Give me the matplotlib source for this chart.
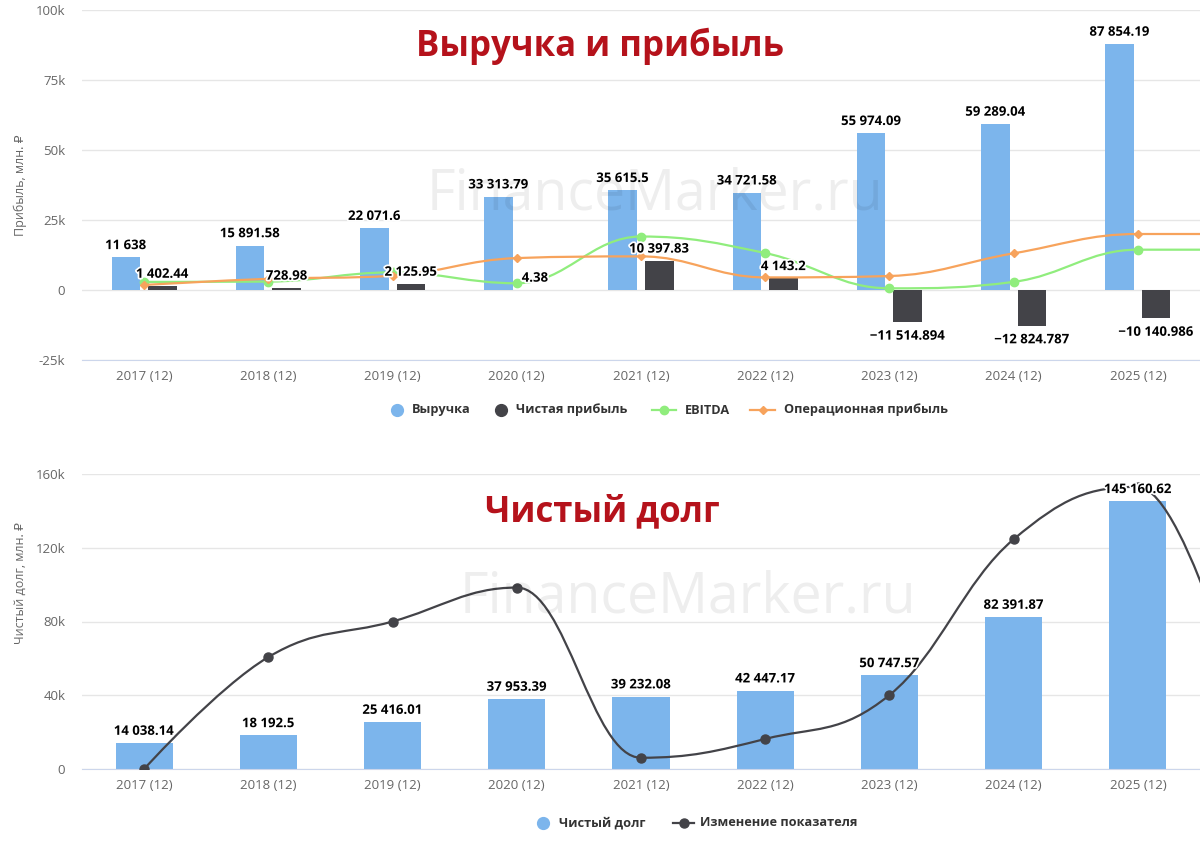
import numpy as np
import matplotlib
matplotlib.use("Agg")
import matplotlib.pyplot as plt
from matplotlib.path import Path
from matplotlib.patches import PathPatch
from matplotlib.lines import Line2D
import matplotlib.patheffects as pe

plt.rcParams['font.family'] = ['Open Sans', 'DejaVu Sans']

# ---------------- data ----------------
categories = ["2017 (12)", "2018 (12)", "2019 (12)", "2020 (12)", "2021 (12)",
              "2022 (12)", "2023 (12)", "2024 (12)", "2025 (12)"]
revenue = [11638, 15891.58, 22071.6, 33313.79, 35615.5, 34721.58, 55974.09, 59289.04, 87854.19]
net_profit = [1402.44, 728.98, 2125.95, 4.38, 10397.83, 4143.2, -11514.894, -12824.787, -10140.986]
# line series continue to one more (cropped) period at the right edge
ebitda = [2900, 3000, 6300, 2400, 19100, 13200, 600, 2900, 14400, 14400]
op_profit = [1800, 4000, 5100, 11400, 12000, 4500, 5000, 13100, 20000, 20000]

net_debt = [14038.14, 18192.5, 25416.01, 37953.39, 39232.08, 42447.17, 50747.57, 82391.87, 145160.62]
debt_change = [0, 60700, 80000, 98400, 6100, 16300, 40100, 124600, 153000, -3000]

top_yticks = [-25000, 0, 25000, 50000, 75000, 100000]
top_yticklabels = ["-25k", "0", "25k", "50k", "75k", "100k"]
bot_yticks = [0, 40000, 80000, 120000, 160000]
bot_yticklabels = ["0", "40k", "80k", "120k", "160k"]

C_BLUE = "#7cb5ec"
C_DARK = "#434348"
C_GREEN = "#90ed7d"
C_ORANGE = "#f7a35c"
C_TITLE = "#b5121b"

W, H = 1200, 841


def fmt(v):
    s = f"{abs(v):,.3f}".rstrip('0').rstrip('.').replace(',', ' ')
    return ("\u2212" if v < 0 else "") + s


def hc_spline(xs, ys, smoothing=1.5):
    """Highcharts-style spline as a bezier Path."""
    n = len(xs)
    denom = smoothing + 1
    lc = [(xs[i], ys[i]) for i in range(n)]
    rc = [(xs[i], ys[i]) for i in range(n)]
    for j in range(1, n - 1):
        lastX, lastY = xs[j - 1], ys[j - 1]
        nextX, nextY = xs[j + 1], ys[j + 1]
        pX, pY = xs[j], ys[j]
        lcx = (smoothing * pX + lastX) / denom
        lcy = (smoothing * pY + lastY) / denom
        rcx = (smoothing * pX + nextX) / denom
        rcy = (smoothing * pY + nextY) / denom
        if rcx != lcx:
            corr = ((rcy - lcy) * (rcx - pX)) / (rcx - lcx) + pY - rcy
            lcy += corr
            rcy += corr
        if lcy > max(lastY, pY):
            lcy = max(lastY, pY); rcy = 2 * pY - lcy
        elif lcy < min(lastY, pY):
            lcy = min(lastY, pY); rcy = 2 * pY - lcy
        if rcy > max(nextY, pY):
            rcy = max(nextY, pY); lcy = 2 * pY - rcy
        elif rcy < min(nextY, pY):
            rcy = min(nextY, pY); lcy = 2 * pY - rcy
        lc[j] = (lcx, lcy)
        rc[j] = (rcx, rcy)
    verts = [(xs[0], ys[0])]
    codes = [Path.MOVETO]
    for i in range(1, n):
        verts += [rc[i - 1], lc[i], (xs[i], ys[i])]
        codes += [Path.CURVE4] * 3
    return Path(verts, codes)


def style_axes(ax, yticks, yticklabels, ylim):
    ax.set_xlim(-0.5, 8.5)
    ax.set_ylim(*ylim)
    ax.set_yticks(yticks)
    ax.set_yticklabels(yticklabels)
    ax.set_xticks(np.arange(len(categories)))
    ax.set_xticklabels(categories)
    for s in ["top", "right", "left"]:
        ax.spines[s].set_visible(False)
    ax.spines["bottom"].set_color("#ccd6eb")
    ax.tick_params(axis='both', length=0, colors="#666666", labelsize=9.5)
    ax.tick_params(axis='y', pad=12)
    ax.tick_params(axis='x', pad=7)
    ax.grid(axis='y', color="#e6e6e6", lw=1)
    ax.set_axisbelow(True)


outline = [pe.withStroke(linewidth=2.5, foreground="white")]

fig = plt.figure(figsize=(W / 100, H / 100), dpi=100)

# watermarks (behind everything)
fig.text(655 / W, 1 - 195 / H, "FinanceMarker.ru", fontsize=40, color="#000000", alpha=0.065,
         ha='center', va='center', zorder=0)
fig.text(688 / W, 1 - 598 / H, "FinanceMarker.ru", fontsize=40, color="#000000", alpha=0.065,
         ha='center', va='center', zorder=0)

# ---------------- top chart ----------------
ax1 = fig.add_axes([82 / W, 1 - 360 / H, 1118 / W, 350 / H])
ax1.patch.set_alpha(0)
style_axes(ax1, top_yticks, top_yticklabels, (-25000, 100000))
x = np.arange(len(categories))
bw = 0.23
off = 0.147
ax1.bar(x - off, revenue, width=bw, color=C_BLUE, zorder=2)
ax1.bar(x + off, net_profit, width=bw, color=C_DARK, zorder=2)

xl = np.arange(len(ebitda))
ax1.add_patch(PathPatch(hc_spline(xl, ebitda), fill=False, edgecolor=C_GREEN, lw=1.6, zorder=4))
ax1.plot(xl, ebitda, ls='none', marker='o', ms=6, color=C_GREEN, zorder=4)
ax1.add_patch(PathPatch(hc_spline(xl, op_profit), fill=False, edgecolor=C_ORANGE, lw=1.6, zorder=4))
ax1.plot(xl, op_profit, ls='none', marker='D', ms=4.5, color=C_ORANGE, zorder=4)

for xi, v in zip(x, revenue):
    ax1.annotate(fmt(v), (xi - off, v), xytext=(0, 8.5), textcoords='offset points',
                 ha='center', va='center', fontsize=9.5, fontweight='bold', color='black',
                 path_effects=outline, zorder=6)
for xi, v in zip(x, net_profit):
    dy = 8.5 if v >= 0 else -10
    ax1.annotate(fmt(v), (xi + off, v), xytext=(0, dy), textcoords='offset points',
                 ha='center', va='center', fontsize=9.5, fontweight='bold', color='black',
                 path_effects=outline, zorder=6)

fig.text(600 / W, 1 - 46 / H, "Выручка и прибыль", fontsize=25, fontweight='bold',
         color=C_TITLE, ha='center', va='center')
fig.text(20 / W, 1 - 185 / H, "Прибыль, млн. ₽", rotation=90, fontsize=9, color="#666666",
         ha='center', va='center')

# ---------------- bottom chart ----------------
ax2 = fig.add_axes([82 / W, 1 - 769 / H, 1118 / W, 295 / H])
ax2.patch.set_alpha(0)
style_axes(ax2, bot_yticks, bot_yticklabels, (0, 160000))
ax2.bar(x, net_debt, width=0.46, color=C_BLUE, zorder=2)
for xi, v in zip(x, net_debt):
    ax2.annotate(fmt(v), (xi, v), xytext=(0, 8.5), textcoords='offset points',
                 ha='center', va='center', fontsize=9.5, fontweight='bold', color='black',
                 path_effects=outline, zorder=5)
xd = np.arange(len(debt_change))
ax2.add_patch(PathPatch(hc_spline(xd, debt_change), fill=False, edgecolor=C_DARK, lw=1.6, zorder=4))
ax2.plot(xd, debt_change, ls='none', marker='o', ms=6.5, color=C_DARK, zorder=4)

fig.text(602 / W, 1 - 512 / H, "Чистый долг", fontsize=25, fontweight='bold',
         color=C_TITLE, ha='center', va='center')
fig.text(20 / W, 1 - 583 / H, "Чистый долг, млн. ₽", rotation=90, fontsize=9, color="#666666",
         ha='center', va='center')


# ---------------- legends ----------------
def P(px, py):
    return px / W, 1 - py / H


def leg_dot(px, py, color):
    fx, fy = P(px, py)
    fig.add_artist(Line2D([fx], [fy], marker='o', ms=8.5, color=color, ls='none',
                          transform=fig.transFigure))


def leg_line(px0, px1, py, color, marker, ms):
    (fx0, fy), (fx1, _) = P(px0, py), P(px1, py)
    fig.add_artist(Line2D([fx0, fx1], [fy, fy], color=color, lw=1.6, transform=fig.transFigure))
    fig.add_artist(Line2D([(fx0 + fx1) / 2], [fy], marker=marker, ms=ms, color=color, ls='none',
                          transform=fig.transFigure))


def leg_text(px, py, s):
    fx, fy = P(px, py)
    fig.text(fx, fy, s, ha='left', va='center', fontsize=9.2, fontweight='bold', color="#333333")


ly = 410
leg_dot(397, ly, C_BLUE); leg_text(412, ly, "Выручка")
leg_dot(501, ly, C_DARK); leg_text(516, ly, "Чистая прибыль")
leg_line(652, 676, ly, C_GREEN, 'o', 6); leg_text(685, ly, "EBITDA")
leg_line(750, 775, ly, C_ORANGE, 'D', 4.5); leg_text(784, ly, "Операционная прибыль")

ly2 = 823
leg_dot(543, ly2, C_BLUE); leg_text(559, ly2, "Чистый долг")
leg_line(673, 694, ly2, C_DARK, 'o', 6.5); leg_text(700, ly2, "Изменение показателя")

fig.savefig("out.png", dpi=100, facecolor="white")
